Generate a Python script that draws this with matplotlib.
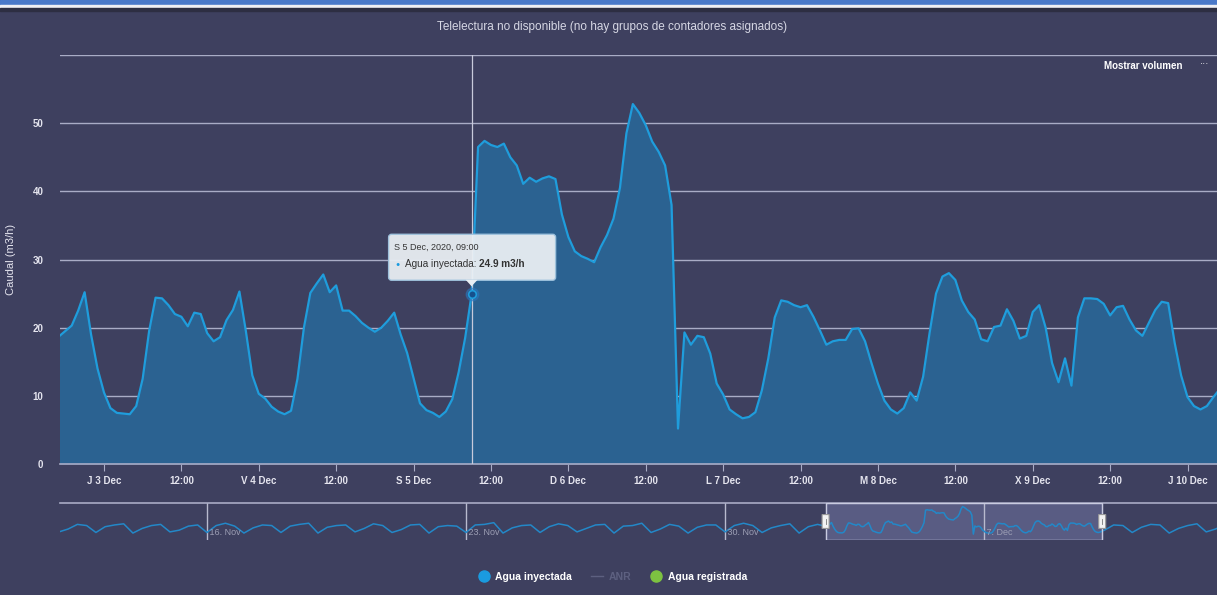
import matplotlib
matplotlib.use("Agg")
import matplotlib.pyplot as plt
import matplotlib.dates as mdates
import matplotlib.transforms as mtransforms
from matplotlib.patches import Rectangle, FancyBboxPatch, Polygon
from matplotlib.lines import Line2D
import numpy as np
import pandas as pd

# --- data (hourly caudal, m3/h) from 2 Dec 17:00 ---
start = '2020-12-02 17:00'
inyectada = [
    18.7, 19.5, 20.3, 22.5, 25.2, 19.0, 14.0,
    10.5, 8.2, 7.5, 7.4, 7.3, 8.5, 12.5, 19.5, 24.4, 24.3, 23.3, 22.0,
    21.6, 20.2, 22.2, 22.0, 19.2, 18.0, 18.6, 21.1, 22.6, 25.3, 19.5, 13.0,
    10.3, 9.6, 8.4, 7.7, 7.3, 7.8, 12.5, 20.0, 25.1, 26.5, 27.8, 25.2,
    26.2, 22.5, 22.5, 21.7, 20.7, 20.0, 19.4, 20.0, 21.0, 22.2, 19.0, 16.3,
    12.6, 8.9, 7.9, 7.5, 6.9, 7.7, 9.5, 13.5, 18.5, 24.9, 46.5, 47.4,
    46.8, 46.5, 47.0, 45.0, 43.8, 41.1, 42.0, 41.4, 41.9, 42.2, 41.8, 36.6,
    33.3, 31.2, 30.5, 30.1, 29.6, 31.8, 33.6, 36.0, 40.5, 48.5, 52.8, 51.5,
    49.7, 47.3, 45.8, 43.8, 38.0, 5.2, 19.3, 17.5, 18.8, 18.6, 16.2, 11.8,
    10.2, 8.0, 7.3, 6.7, 6.9, 7.6, 10.8, 15.5, 21.5, 24.0, 23.8, 23.3,
    23.0, 23.3, 21.6, 19.6, 17.5, 18.0, 18.2, 18.2, 19.8, 19.9, 18.0, 14.8,
    11.8, 9.3, 8.0, 7.4, 8.2, 10.5, 9.3, 12.8, 19.2, 25.0, 27.5, 28.0,
    27.0, 24.0, 22.3, 21.2, 18.3, 18.0, 20.1, 20.3, 22.7, 21.0, 18.4, 18.8,
    22.3, 23.3, 20.0, 14.8, 12.0, 15.5, 11.5, 21.5, 24.3, 24.3, 24.2, 23.5,
    21.8, 23.0, 23.2, 21.2, 19.6, 18.8, 20.7, 22.6, 23.8, 23.6, 17.8, 13.0,
    9.8, 8.5, 8.0, 8.5, 9.8, 11.0,
]

# navigator overview (6-hourly) outside the selected window
nav_before_start = '2020-11-12 00:00'
nav_before = [
    9, 14, 22, 20,  8, 18, 21, 23,  7, 15, 20, 22,  9, 12, 19, 21,
    8, 20, 24, 19,  7, 16, 21, 20,  8, 19, 22, 24,  7, 17, 20, 21,
    9, 15, 23, 20,  8, 13, 21, 22,  7, 18, 20, 19,  8, 21, 22, 25,
    7, 16, 20, 21,  8, 18, 23, 20,  9, 15, 21, 22,  7, 19, 20, 24,
    8, 14, 22, 19,  7, 17, 21, 21,  9, 20, 24, 20,  8, 16, 20, 23,
    7, 18, 22,
]
nav_after_start = '2020-12-10 06:00'
nav_after = [12, 21, 20, 8, 17, 22, 21, 7, 15, 20, 23, 9, 14, 21]

tick_times = pd.date_range('2020-12-03 00:00', '2020-12-10 00:00', freq='12h')
tick_labels = ['J 3 Dec', '12:00', 'V 4 Dec', '12:00', 'S 5 Dec', '12:00',
               'D 6 Dec', '12:00', 'L 7 Dec', '12:00', 'M 8 Dec', '12:00',
               'X 9 Dec', '12:00', 'J 10 Dec']
nav_ticks = pd.to_datetime(['2020-11-16', '2020-11-23', '2020-11-30', '2020-12-07'])
nav_labels = ['16. Nov', '23. Nov', '30. Nov', '7. Dec']
tooltip_time = pd.Timestamp('2020-12-05 09:00')

times = pd.date_range(start, periods=len(inyectada), freq='h')
t_before = pd.date_range(nav_before_start, periods=len(nav_before), freq='6h')
t_after = pd.date_range(nav_after_start, periods=len(nav_after), freq='6h')

BG = '#3e405f'
FILL = '#2b6291'
LINE = '#1f9ddc'
GRID = '#a9acc6'
TXT = '#e4e4ee'
FONT = ['Liberation Sans', 'DejaVu Sans']
plt.rcParams['font.family'] = FONT

W, H = 1217, 595
fig = plt.figure(figsize=(W / 100, H / 100), dpi=100, facecolor=BG)

# top browser strip
fig.add_artist(Rectangle((0, 1 - 5 / H), 1, 5 / H, transform=fig.transFigure,
                         color='#4a79c9', zorder=0))
fig.add_artist(Rectangle((0, 1 - 8 / H), 1, 3 / H, transform=fig.transFigure,
                         color='#f0f0f4', zorder=0))
fig.add_artist(Rectangle((0, 1 - 11 / H), 1, 3 / H, transform=fig.transFigure,
                         color='#2d2e42', zorder=0))

# --- main axes ---
ax = fig.add_axes([60 / W, 131 / H, (W - 60) / W, 409 / H])
ax.set_facecolor(BG)
x = mdates.date2num(times)
ax.fill_between(x, inyectada, 0, color=FILL, lw=0, zorder=2)
ax.plot(x, inyectada, color=LINE, lw=1.6, zorder=3)

x0 = mdates.date2num(pd.Timestamp('2020-12-02 17:11'))
x1 = mdates.date2num(pd.Timestamp('2020-12-10 04:34'))
ax.set_xlim(x0, x1)
ax.set_ylim(0, 60)
for v in range(10, 70, 10):
    ax.axhline(v, color=GRID, lw=1, zorder=1)
ax.set_yticks(range(0, 60, 10))
ax.set_yticklabels([str(v) for v in range(0, 60, 10)])
ax.set_xticks(mdates.date2num(tick_times))
ax.set_xticklabels(tick_labels)
ax.tick_params(axis='y', length=0, colors=TXT, labelsize=7, pad=12)
ax.tick_params(axis='x', length=5, color=GRID, colors=TXT, labelsize=7, pad=4)
for lbl in ax.get_yticklabels() + ax.get_xticklabels():
    lbl.set_fontweight('bold')
for s in ['top', 'right', 'left']:
    ax.spines[s].set_visible(False)
ax.spines['bottom'].set_color(GRID)
ax.spines['bottom'].set_linewidth(1.2)
ax.set_ylabel('Caudal (m3/h)', color=TXT, fontsize=8, labelpad=12)

# crosshair + hovered point
tt = mdates.date2num(tooltip_time)
tv = inyectada[list(times).index(tooltip_time)]
ax.axvline(tt, color='#c8cadb', lw=0.9, zorder=4)
ax.plot(tt, tv, 'o', ms=9, color='#2a78c0', alpha=0.5, zorder=5)
ax.plot(tt, tv, 'o', ms=5.5, mfc='#16508c', mec=LINE, mew=1.2, zorder=6)

fig.text(0.503, 1 - 27 / H, 'Telelectura no disponible (no hay grupos de contadores asignados)',
         ha='center', va='center', color='#d6d7e4', fontsize=8.5)
fig.text(1143 / W, 1 - 66 / H, 'Mostrar volumen', ha='center', va='center',
         color='white', fontsize=7, fontweight='bold')
fig.text(1205 / W, 1 - 64 / H, '···', ha='center', va='center', color='white', fontsize=7)

# tooltip (offsets in pixels from the hovered point)
fig.canvas.draw()
px, py = ax.transData.transform((tt, tv))
ident = mtransforms.IdentityTransform()
box = FancyBboxPatch((px - 83, py + 14), 167, 46, boxstyle='round,pad=0,rounding_size=3',
                     fc='#e9eef3', ec='#9fc3de', lw=1, transform=ident, zorder=10, alpha=0.95)
fig.add_artist(box)
fig.add_artist(Polygon([(px - 6, py + 14.5), (px + 6, py + 14.5), (px, py + 8)],
                       closed=True, fc='#e9eef3', ec='none', transform=ident, zorder=11))
fig.text(px - 78, py + 47, 'S 5 Dec, 2020, 09:00', transform=ident, fontsize=6.5,
         color='#333333', va='center', ha='left', zorder=12)
fig.text(px - 74, py + 30, '●', transform=ident, fontsize=5, color='#1a9be0',
         va='center', ha='center', zorder=12)
t1 = fig.text(px - 67, py + 30, 'Agua inyectada: ', transform=ident, fontsize=7.2,
              color='#333333', va='center', ha='left', zorder=12)
fig.canvas.draw()
bb = t1.get_window_extent()
fig.text(bb.x1, py + 30, '24.9 m3/h', transform=ident, fontsize=7.2, fontweight='bold',
         color='#333333', va='center', ha='left', zorder=12)

# --- navigator ---
nav = fig.add_axes([60 / W, 55 / H, (W - 60) / W, 37 / H])
nav.set_facecolor(BG)
nx = np.concatenate([mdates.date2num(t_before), x, mdates.date2num(t_after)])
ny = np.concatenate([nav_before, inyectada, nav_after])
nav.plot(nx, ny, color='#2388c8', lw=1.1, zorder=3)
nav.set_xlim(mdates.date2num(pd.Timestamp('2020-11-12 00:43')),
             mdates.date2num(pd.Timestamp('2020-12-13 07:00')))
nav.set_ylim(-5, 59)
nav.set_xticks([])
nav.set_yticks([])
for s in ['right', 'left', 'bottom']:
    nav.spines[s].set_visible(False)
nav.spines['top'].set_color(GRID)
nav.spines['top'].set_linewidth(1.2)
for t, lab in zip(nav_ticks, nav_labels):
    tn = mdates.date2num(t)
    nav.axvline(tn, color='#b8bace', lw=1, zorder=2)
    nav.text(tn, 8, ' ' + lab, color='#9c9eb4', fontsize=6.5, va='center', ha='left', zorder=4)
nav.axvspan(x0, x1, color='#8d92c8', alpha=0.35, zorder=1)
nav.add_patch(Rectangle((x0, -5), x1 - x0, 64, fill=False, ec='#c9cbe0', lw=1, zorder=5))
hw = (nav.get_xlim()[1] - nav.get_xlim()[0]) * 7 / (W - 60)
for xe in (x0, x1):
    nav.add_patch(FancyBboxPatch((xe - hw / 2, 15), hw, 24, boxstyle='round,pad=0',
                                 fc='#f2f2f2', ec='#999999', lw=0.8, zorder=6))
    nav.plot([xe, xe], [22, 32], color='#777777', lw=0.6, zorder=7)

# --- legend ---
handles = [
    Line2D([], [], marker='o', color='#1a9be0', ls='None', ms=8),
    Line2D([], [], color='#5d6080', lw=1),
    Line2D([], [], marker='o', color='#7dc241', ls='None', ms=8),
]
leg = fig.legend(handles, ['Agua inyectada', 'ANR', 'Agua registrada'], ncol=3,
                 loc='center', bbox_to_anchor=(0.503, 1 - 577 / H), frameon=False,
                 fontsize=7.5, handlelength=1.2, handletextpad=0.5, columnspacing=1.8)
for txt, col in zip(leg.get_texts(), ['white', '#5d6080', 'white']):
    txt.set_color(col)
    txt.set_fontweight('bold')

fig.savefig('out.png', dpi=100, facecolor=BG)
